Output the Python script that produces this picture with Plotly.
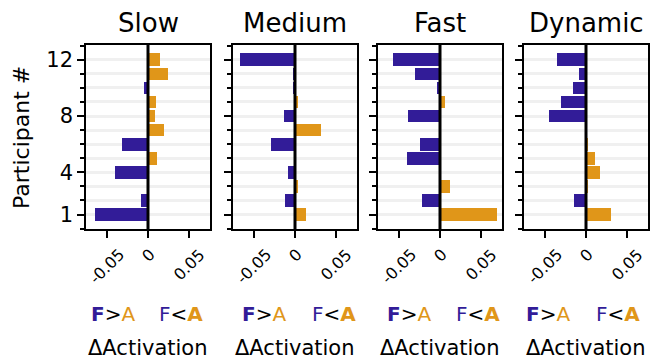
import plotly.graph_objects as go

# ---------------- data ----------------
participants = list(range(1, 13))
conditions = ["Slow", "Medium", "Fast", "Dynamic"]
slow = [-0.064, -0.009, 0.0, -0.040, 0.011, -0.031, 0.019, 0.0085, 0.0097, -0.005, 0.024, 0.015]
medium = [0.013, -0.0124, 0.004, -0.009, 0.0, -0.029, 0.032, -0.0136, 0.004, -0.003, -0.003, -0.067]
fast = [0.069, -0.022, 0.0116, 0.0, -0.040, -0.024, 0.0, -0.039, 0.0056, -0.004, -0.030, -0.057]
dynamic = [0.030, -0.015, 0.003, 0.0164, 0.0104, 0.0028, 0.0, -0.045, -0.030, -0.016, -0.0088, -0.0356]
series = [slow, medium, fast, dynamic]
x_tickvals = [-0.05, 0, 0.05]
x_ticktext = ["-0.05", "0", "0.05"]
y_tickvals = [1, 4, 8, 12]

PURPLE = "#321c98"
ORANGE = "#e09619"
FONT = "DejaVu Sans"
W, H = 652, 364

# panel pixel boxes
panel_x = [(86, 210), (233, 357), (378, 502), (524, 648)]
top_px, bot_px = 45, 229
label_fa = [112.5, 264, 409, 548]
label_af = [181.3, 333.5, 478, 618]

fig = go.Figure()
annotations = []
shapes = []

for i, (name, vals) in enumerate(zip(conditions, series)):
    xa = "x" if i == 0 else f"x{i+1}"
    ya = "y" if i == 0 else f"y{i+1}"
    colors = [PURPLE if v < 0 else ORANGE for v in vals]
    fig.add_trace(go.Bar(
        x=vals, y=participants, orientation="h", width=0.9,
        marker=dict(color=colors, line=dict(width=0)),
        xaxis=xa, yaxis=ya, showlegend=False,
    ))
    x0, x1 = panel_x[i]
    xkey = "xaxis" if i == 0 else f"xaxis{i+1}"
    ykey = "yaxis" if i == 0 else f"yaxis{i+1}"
    fig.layout[xkey] = dict(
        domain=[x0 / W, x1 / W], range=[-0.075, 0.075],
        anchor=ya, showgrid=False, zeroline=False,
        showline=True, mirror=True, linecolor="black", linewidth=1.5,
        ticks="outside", ticklen=7, tickwidth=1.5, tickcolor="black",
        tickmode="array", tickvals=x_tickvals, showticklabels=False,
        fixedrange=True,
    )
    fig.layout[ykey] = dict(
        domain=[1 - bot_px / H, 1 - top_px / H], range=[-0.03, 13.05],
        anchor=xa, zeroline=False,
        showline=True, mirror=True, linecolor="black", linewidth=1.5,
        ticks="outside", ticklen=7, tickwidth=1.5, tickcolor="black",
        tickmode="array", tickvals=y_tickvals,
        showticklabels=(i == 0),
        tickfont=dict(family=FONT, size=21, color="black"),
        showgrid=True, gridcolor="#f0f0f0", gridwidth=2.5,
        minor=dict(tick0=0, dtick=1, ticks="outside", ticklen=4,
                   tickwidth=1.5, tickcolor="black",
                   showgrid=True, gridcolor="#f0f0f0", gridwidth=2.5),
        fixedrange=True,
    )
    # zero line on top of bars
    shapes.append(dict(type="line", xref=xa, yref=f"{ya} domain",
                       x0=0, x1=0, y0=0, y1=1, layer="above",
                       line=dict(color="black", width=3)))
    # panel title
    annotations.append(dict(text=name, xref="paper", yref="paper",
                            x=(x0 + x1) / 2 / W, y=1 - 23 / H,
                            xanchor="center", yanchor="middle", showarrow=False,
                            font=dict(family=FONT, size=26, color="black")))
    # rotated tick labels
    for tv, tt in zip(x_tickvals, x_ticktext):
        annotations.append(dict(text=tt, xref=xa, yref="paper",
                                x=tv, y=1 - 242 / H, textangle=-45,
                                xanchor="center", yanchor="top", showarrow=False,
                                font=dict(family=FONT, size=16, color="black")))
    # F>A / F<A labels
    annotations.append(dict(
        text=f"<b><span style='color:{PURPLE}'>F</span></b>&gt;<span style='color:{ORANGE}'>A</span>",
        xref="paper", yref="paper", x=label_fa[i] / W, y=1 - 314 / H,
        xanchor="center", yanchor="middle", showarrow=False,
        font=dict(family=FONT, size=20, color="black")))
    annotations.append(dict(
        text=f"<span style='color:{PURPLE}'>F</span>&lt;<b><span style='color:{ORANGE}'>A</span></b>",
        xref="paper", yref="paper", x=label_af[i] / W, y=1 - 314 / H,
        xanchor="center", yanchor="middle", showarrow=False,
        font=dict(family=FONT, size=20, color="black")))
    annotations.append(dict(
        text="ΔActivation", xref="paper", yref="paper",
        x=(x0 + x1) / 2 / W, y=1 - 348 / H,
        xanchor="center", yanchor="middle", showarrow=False,
        font=dict(family=FONT, size=21, color="black")))

annotations.append(dict(text="Participant #", xref="paper", yref="paper",
                        x=21 / W, y=1 - 138 / H, textangle=-90,
                        xanchor="center", yanchor="middle", showarrow=False,
                        font=dict(family=FONT, size=22, color="black")))

fig.update_layout(
    width=W, height=H, margin=dict(l=0, r=0, t=0, b=0),
    paper_bgcolor="white", plot_bgcolor="white",
    annotations=annotations, shapes=shapes, bargap=0,
    font=dict(family=FONT),
)
fig.write_html("out.html", config={"displayModeBar": False})
